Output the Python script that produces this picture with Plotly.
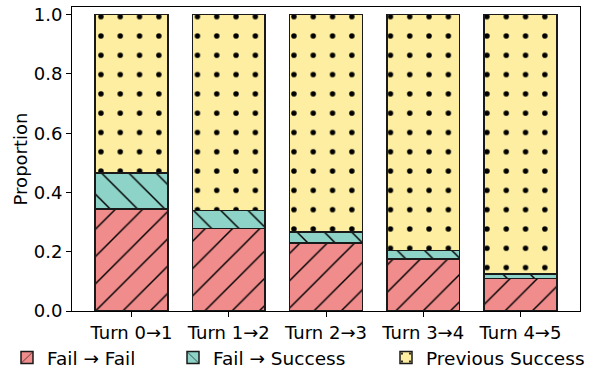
import plotly.graph_objects as go

# Transition categories
turns = ["Turn 0→1", "Turn 1→2", "Turn 2→3", "Turn 3→4", "Turn 4→5"]

# Proportions for each transition (stacked to 1.0)
fail_fail = [0.345, 0.279, 0.229, 0.175, 0.110]
fail_success = [0.120, 0.060, 0.037, 0.029, 0.015]
prev_success = [round(1 - a - b, 3) for a, b in zip(fail_fail, fail_success)]

# name, values, fill colour, hatch shape, hatch solidity, legend id, legend x (px)
series = [
    ("Fail → Fail", fail_fail, "#F08C8C", "/", 0.075, "legend", 7),
    ("Fail → Success", fail_success, "#8DD3C7", "\\", 0.075, "legend2", 173),
    ("Previous Success", prev_success, "#FEEEA2", ".", 0.062, "legend3", 386),
]

W, H = 590, 370
font = "DejaVu Sans"
fig = go.Figure()
legends = {}
for name, vals, color, shape, solidity, leg, lx in series:
    fig.add_trace(go.Bar(
        x=list(range(len(turns))), y=vals, name=name, width=0.75,
        legend=leg,
        marker=dict(
            color=color,
            line=dict(color="#1a1a1a", width=1.5),
            pattern=dict(shape=shape, fgcolor="black", bgcolor=color,
                         size=19.3, solidity=solidity, fillmode="replace"),
        ),
    ))
    legends[leg] = dict(
        orientation="h", xref="container", yref="container",
        x=lx / W, xanchor="left", y=(H - 358) / H, yanchor="middle",
        font=dict(size=18.5), bgcolor="rgba(0,0,0,0)",
    )

fig.update_layout(
    barmode="stack",
    width=W, height=H,
    margin=dict(l=72, r=10, t=7, b=59, autoexpand=False),
    paper_bgcolor="white", plot_bgcolor="white",
    font=dict(family=font, size=18, color="black"),
    showlegend=True,
    **legends,
    xaxis=dict(
        tickmode="array", tickvals=list(range(len(turns))), ticktext=turns,
        range=[-0.6125, 4.6125], showline=True, linecolor="black", linewidth=1.1,
        mirror=True, ticks="outside", ticklen=5, tickwidth=1.1, tickcolor="black",
        showgrid=False, zeroline=False,
    ),
    yaxis=dict(
        title=dict(text="Proportion", font=dict(size=18), standoff=1),
        range=[0, 1.026], tickvals=[0, 0.2, 0.4, 0.6, 0.8, 1.0],
        tickformat=".1f", showline=True, linecolor="black", linewidth=1.1,
        mirror=True, ticks="outside", ticklen=5, tickwidth=1.1, tickcolor="black",
        showgrid=False, zeroline=False,
    ),
)

fig.write_html("out.html")
